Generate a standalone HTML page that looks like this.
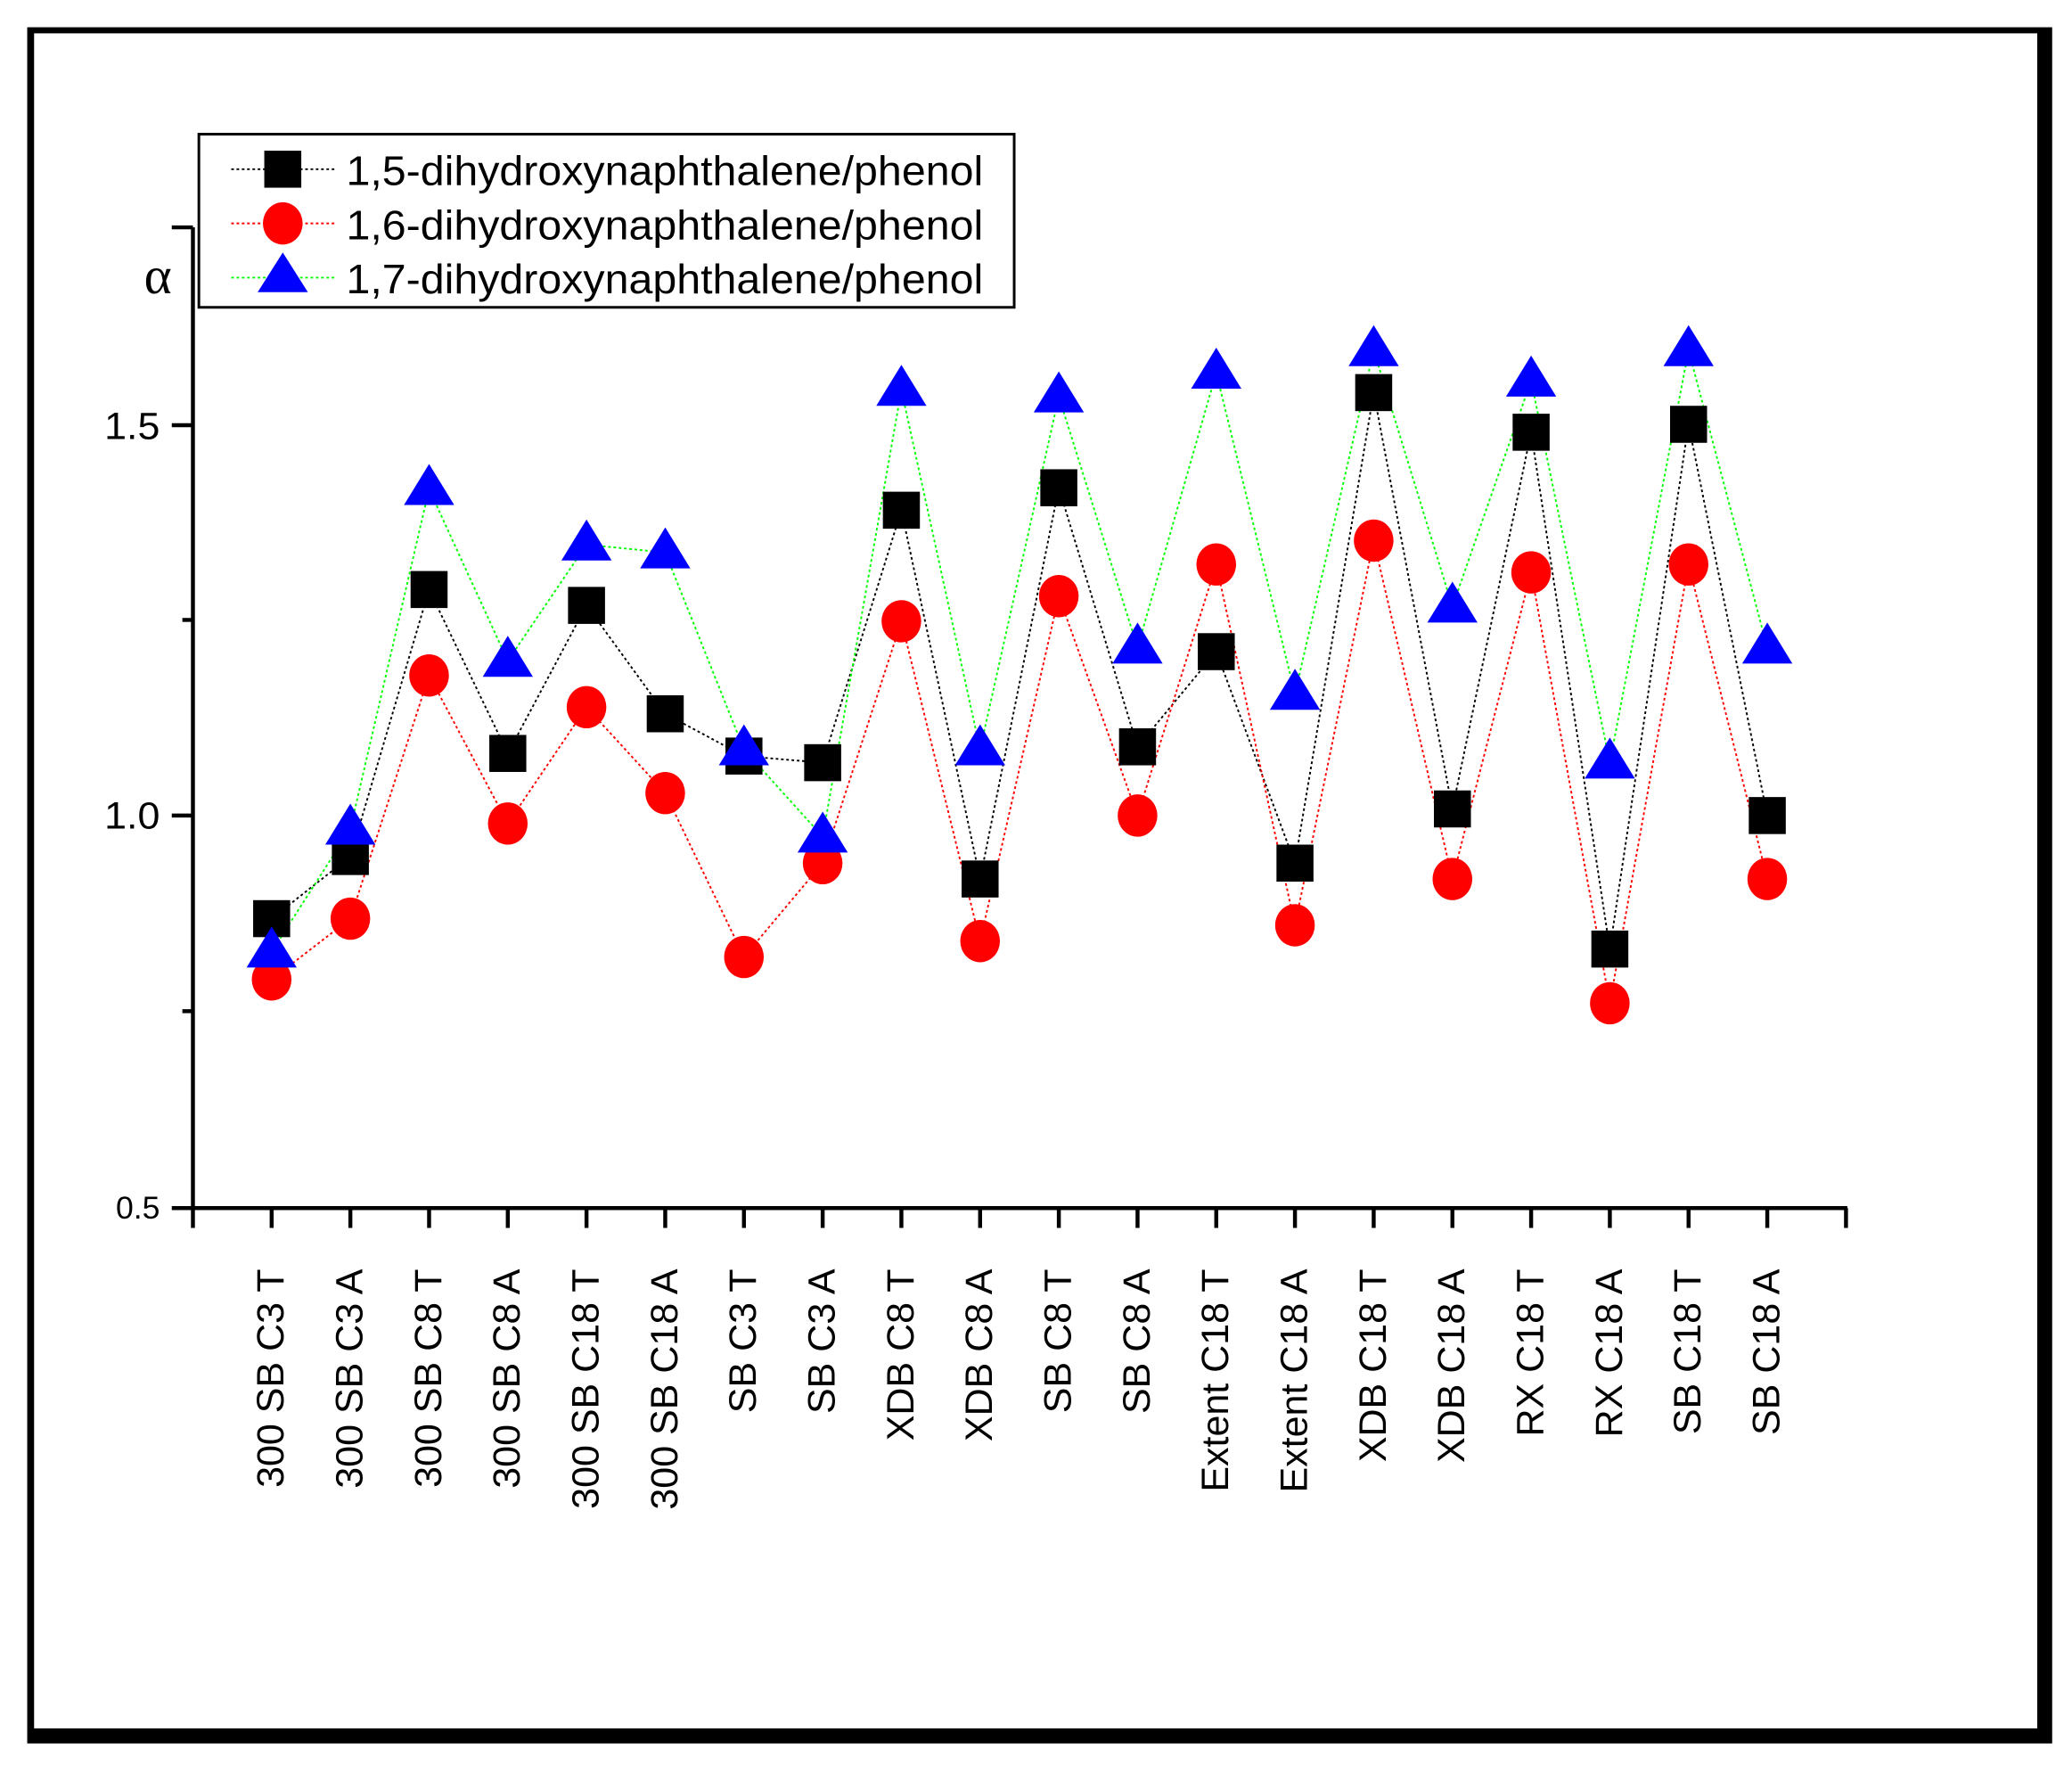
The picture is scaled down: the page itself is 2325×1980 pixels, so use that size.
<!DOCTYPE html>
<html><head><meta charset="utf-8"><style>
html,body{margin:0;padding:0;background:#fff;}
svg{display:block;}
text{font-family:"Liberation Sans",Arial,sans-serif;fill:#000;}
</style></head><body>
<svg width="2325" height="1980" viewBox="0 0 1568 1335.3" xmlns="http://www.w3.org/2000/svg">
<rect x="0" y="0" width="1568" height="1335.3" fill="#fff"/>
<rect x="20.6" y="20.6" width="1532.4" height="1298.4" fill="#000"/>
<rect x="25.8" y="25.2" width="1515.9" height="1282.4" fill="#fff"/>

<g stroke="#000" stroke-width="3" fill="none" stroke-linecap="butt">
<line x1="146" y1="172" x2="146" y2="914"/>
<line x1="144.5" y1="914" x2="1398" y2="914"/>
<line x1="130" y1="172" x2="146" y2="172"/>
<line x1="130" y1="321.7" x2="146" y2="321.7"/>
<line x1="138" y1="469" x2="146" y2="469"/>
<line x1="130" y1="617" x2="146" y2="617"/>
<line x1="138" y1="765" x2="146" y2="765"/>
<line x1="130" y1="914" x2="146" y2="914"/>
</g>
<g id="xt" stroke="#000" stroke-width="3"></g>

<text x="121" y="332" font-size="29" text-anchor="end" textLength="42" lengthAdjust="spacingAndGlyphs">1.5</text>
<text x="121" y="627" font-size="29" text-anchor="end" textLength="42" lengthAdjust="spacingAndGlyphs">1.0</text>
<text x="121" y="922" font-size="24" text-anchor="end">0.5</text>
<text x="109" y="222" font-size="40" style="font-family:'Liberation Serif',serif">α</text>

<g id="lines"></g>
<g id="marks"></g>
<g id="labels"></g>

<rect x="150.5" y="101.5" width="617" height="131" fill="#fff" stroke="#000" stroke-width="2"/>
<g stroke-width="1.3" stroke-dasharray="2,2">
<line x1="175" y1="128" x2="255" y2="128" stroke="#000"/>
<line x1="175" y1="169" x2="255" y2="169" stroke="#f00"/>
<line x1="175" y1="210" x2="255" y2="210" stroke="#0f0"/>
</g>
<rect x="200" y="114" width="28" height="28" fill="#000"/>
<ellipse cx="214" cy="169" rx="15" ry="16" fill="#f00"/>
<polygon points="214,191 195,221 233,221" fill="#00f"/>
<text x="262" y="140" font-size="31" textLength="482" lengthAdjust="spacingAndGlyphs">1,5-dihydroxynaphthalene/phenol</text>
<text x="262" y="181" font-size="31" textLength="482" lengthAdjust="spacingAndGlyphs">1,6-dihydroxynaphthalene/phenol</text>
<text x="262" y="222" font-size="31" textLength="482" lengthAdjust="spacingAndGlyphs">1,7-dihydroxynaphthalene/phenol</text>
</svg>
<script>
(function(){
var NS="http://www.w3.org/2000/svg";
function el(p,t,a,txt){var e=document.createElementNS(NS,t);for(var k in a)e.setAttribute(k,a[k]);if(txt)e.textContent=txt;p.appendChild(e);return e;}
var X=function(i){return 146+59.57*i;};
var names=["300 SB C3 T","300 SB C3 A","300 SB C8 T","300 SB C8 A","300 SB C18 T","300 SB C18 A","SB C3 T","SB C3 A","XDB C8 T","XDB C8 A","SB C8 T","SB C8 A","Extent C18 T","Extent C18 A","XDB C18 T","XDB C18 A","RX C18 T","RX C18 A","SB C18 T","SB C18 A"];
var blk=[695,648,446,570,458,540,572,577,386,665,369,565,493,653,297,612,327,718,321,617];
var red=[741,695,511,623,535,600,724,653,470,712,451,617,427,700,409,665,433,759,427,665];
var blu=[720,627,370,500,412,418,567,633,295,567,300,490,282,525,265,459,288,577,265,490];
var xt=document.getElementById("xt");
for(var i=0;i<=21;i++)el(xt,"line",{x1:X(i),y1:914,x2:X(i),y2:929});
var lb=document.getElementById("labels");
names.forEach(function(n,k){var x=X(k+1)+9,y=960;el(lb,"text",{x:x,y:y,"font-size":"29","text-anchor":"end",transform:"rotate(-90 "+x+" "+y+")"},n);});
var L=document.getElementById("lines");
function pl(arr,c){var p=arr.map(function(y,k){return X(k+1)+","+y;}).join(" ");el(L,"polyline",{points:p,fill:"none",stroke:c,"stroke-width":"1.3","stroke-dasharray":"2,2"});}
pl(blk,"#000");pl(red,"#f00");pl(blu,"#0f0");
var M=document.getElementById("marks");
blk.forEach(function(y,k){el(M,"rect",{x:X(k+1)-14,y:y-14,width:28,height:28,fill:"#000"});});
red.forEach(function(y,k){el(M,"ellipse",{cx:X(k+1),cy:y,rx:15,ry:16,fill:"#f00"});});
blu.forEach(function(y,k){var x=X(k+1);el(M,"polygon",{points:x+","+(y-19)+" "+(x-19)+","+(y+12)+" "+(x+19)+","+(y+12),fill:"#00f"});});
})();
</script>
</body></html>
